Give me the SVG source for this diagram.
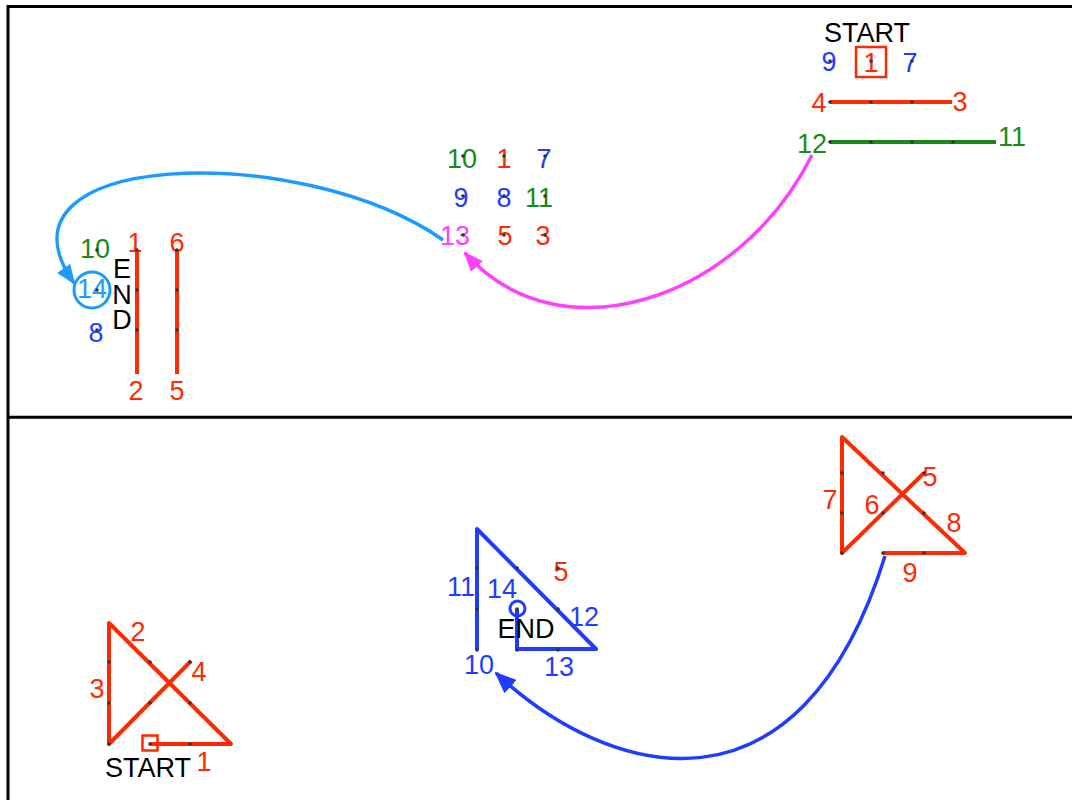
<svg xmlns="http://www.w3.org/2000/svg" width="1072" height="800" viewBox="0 0 1072 800">
<style>
text{font-family:"Liberation Sans",Arial,Helvetica,sans-serif;font-size:27px;text-anchor:middle}
.r{fill:#ff2a00}.g{fill:#178a17}.b{fill:#1f3dff}.lb{fill:#1a9bff}.m{fill:#ff40ff}.k{fill:#000}
.sr{stroke:#ff2a00;stroke-width:4;fill:none;stroke-linejoin:round}
.sg{stroke:#178a17;stroke-width:4;fill:none}
.sb{stroke:#1f3dff;stroke-width:4;fill:none;stroke-linejoin:round}
.dot{fill:#333}
.frame{stroke:#000;stroke-width:3;fill:none}
.c{fill:none;stroke-width:3.5}
</style>
<defs>
<marker id="aLb" markerUnits="userSpaceOnUse" viewBox="0 0 20 16" refX="18" refY="8" markerWidth="20" markerHeight="16" orient="auto"><path d="M0,0 L20,8 L0,16 z" fill="#1a9bff"/></marker>
<marker id="aM" markerUnits="userSpaceOnUse" viewBox="0 0 20 16" refX="18" refY="8" markerWidth="20" markerHeight="16" orient="auto"><path d="M0,0 L20,8 L0,16 z" fill="#ff40ff"/></marker>
<marker id="aB" markerUnits="userSpaceOnUse" viewBox="0 0 22 18" refX="20" refY="9" markerWidth="22" markerHeight="18" orient="auto"><path d="M0,0 L22,9 L0,18 z" fill="#1f3dff"/></marker>
</defs>
<rect width="1072" height="800" fill="#fff"/>
<g id="frame">
<rect class="frame" x="8" y="6.5" width="1100" height="1000"/>
<line class="frame" x1="8" y1="417.3" x2="1072" y2="417.3"/>
</g>

<g id="top-start">
<line class="sr" x1="830" y1="102" x2="952" y2="102"/>
<line class="sg" x1="830" y1="142" x2="996" y2="142"/>
<rect x="856" y="47" width="30" height="30" fill="none" stroke="#ff2a00" stroke-width="2.5"/>
<text class="k" x="867" y="42">START</text>
<text class="b" x="829" y="71">9</text>
<text class="r" x="871" y="72">1</text>
<text class="b" x="910" y="72">7</text>
<text class="r" x="819" y="112">4</text>
<text class="r" x="960" y="111">3</text>
<text class="g" x="812" y="153">12</text>
<text class="g" x="1012" y="146">11</text>
<g class="dot"><circle cx="830" cy="61" r="1.8"/><circle cx="871" cy="61" r="1.8"/><circle cx="912" cy="61" r="1.8"/><circle cx="830" cy="102" r="1.8"/><circle cx="871" cy="102" r="1.8"/><circle cx="912" cy="102" r="1.8"/><circle cx="830" cy="142" r="1.8"/><circle cx="871" cy="142" r="1.8"/><circle cx="912" cy="142" r="1.8"/><circle cx="953" cy="142" r="1.8"/></g>
</g>

<g id="top-middle">
<text class="g" x="462" y="168">10</text>
<text class="r" x="504" y="168">1</text>
<text class="b" x="544" y="168">7</text>
<text class="b" x="461" y="207">9</text>
<text class="b" x="504" y="207">8</text>
<text class="g" x="539" y="207">11</text>
<text class="m" x="455" y="245">13</text>
<text class="r" x="505" y="245">5</text>
<text class="r" x="543" y="245">3</text>
<g class="dot"><circle cx="463" cy="156" r="1.8"/><circle cx="504" cy="156" r="1.8"/><circle cx="545" cy="156" r="1.8"/><circle cx="463" cy="196" r="1.8"/><circle cx="504" cy="196" r="1.8"/><circle cx="545" cy="196" r="1.8"/><circle cx="463" cy="235" r="1.8"/><circle cx="504" cy="235" r="1.8"/><circle cx="545" cy="235" r="1.8"/></g>
</g>

<g id="top-end">
<line class="sr" x1="137" y1="250" x2="137" y2="374"/>
<line class="sr" x1="177" y1="250" x2="177" y2="374"/>
<circle cx="92" cy="290" r="18" fill="none" stroke="#1a9bff" stroke-width="3"/>
<text class="g" x="95" y="258">10</text>
<text class="r" x="135" y="252">1</text>
<text class="r" x="177" y="252">6</text>
<text class="lb" x="92" y="298">14</text>
<text class="b" x="96" y="342">8</text>
<text class="r" x="136" y="400">2</text>
<text class="r" x="177" y="400">5</text>
<text class="k" x="122" y="278">E</text>
<text class="k" x="122" y="304">N</text>
<text class="k" x="122" y="329">D</text>
<g class="dot"><circle cx="97" cy="250" r="1.8"/><circle cx="137" cy="250" r="1.8"/><circle cx="177" cy="250" r="1.8"/><circle cx="97" cy="290" r="1.8"/><circle cx="137" cy="290" r="1.8"/><circle cx="177" cy="290" r="1.8"/><circle cx="97" cy="330" r="1.8"/><circle cx="137" cy="330" r="1.8"/><circle cx="177" cy="330" r="1.8"/></g>
</g>

<g id="bottom-start">
<polyline class="sr" points="150,744 231,744 109,623 109,744 191,661"/>
<rect x="142.5" y="735.5" width="15" height="15" fill="none" stroke="#ff2a00" stroke-width="2.5"/>
<text class="r" x="138" y="641">2</text>
<text class="r" x="97" y="698">3</text>
<text class="r" x="199" y="681">4</text>
<text class="r" x="204" y="771">1</text>
<text class="k" x="148" y="777">START</text>
<g class="dot"><circle cx="109" cy="662" r="1.8"/><circle cx="150" cy="662" r="1.8"/><circle cx="190" cy="662" r="1.8"/><circle cx="109" cy="703" r="1.8"/><circle cx="150" cy="703" r="1.8"/><circle cx="190" cy="703" r="1.8"/><circle cx="109" cy="744" r="1.8"/><circle cx="150" cy="744" r="1.8"/><circle cx="190" cy="744" r="1.8"/></g>
</g>

<g id="bottom-end">
<polyline class="sb" points="477,650 477,529 596,649 517,649 517,609"/>
<circle cx="517.5" cy="608.5" r="7.5" fill="none" stroke="#1f3dff" stroke-width="3"/>
<text class="b" x="461" y="596">11</text>
<text class="b" x="502" y="598">14</text>
<text class="r" x="561" y="581">5</text>
<text class="b" x="584" y="626">12</text>
<text class="k" x="526" y="638">END</text>
<text class="b" x="559" y="676">13</text>
<text class="b" x="479" y="674">10</text>
<g class="dot"><circle cx="477" cy="568" r="1.8"/><circle cx="517" cy="568" r="1.8"/><circle cx="558" cy="568" r="1.8"/><circle cx="477" cy="609" r="1.8"/><circle cx="517" cy="609" r="1.8"/><circle cx="558" cy="609" r="1.8"/><circle cx="477" cy="650" r="1.8"/><circle cx="517" cy="650" r="1.8"/><circle cx="558" cy="650" r="1.8"/></g>
</g>

<g id="bottom-right">
<polyline class="sr" points="924,473 842,553 842,437 965,553 883,553"/>
<text class="r" x="830" y="509">7</text>
<text class="r" x="872" y="514">6</text>
<text class="r" x="930" y="486">5</text>
<text class="r" x="954" y="532">8</text>
<text class="r" x="910" y="582">9</text>
<g class="dot"><circle cx="842" cy="473" r="1.8"/><circle cx="883" cy="473" r="1.8"/><circle cx="924" cy="473" r="1.8"/><circle cx="842" cy="513" r="1.8"/><circle cx="883" cy="513" r="1.8"/><circle cx="924" cy="513" r="1.8"/><circle cx="842" cy="553" r="1.8"/><circle cx="883" cy="553" r="1.8"/><circle cx="924" cy="553" r="1.8"/></g>
</g>

<g id="connectors">
<path class="c" stroke="#1a9bff" d="M443,240 C300,140 -20,150 74,283" marker-end="url(#aLb)"/>
<path class="c" stroke="#ff40ff" d="M812,155 C740,300 560,360 465,253" marker-end="url(#aM)"/>
<path class="c" stroke="#1f3dff" d="M885,556 C800,830 610,780 496,673" marker-end="url(#aB)"/>
</g>
</svg>
